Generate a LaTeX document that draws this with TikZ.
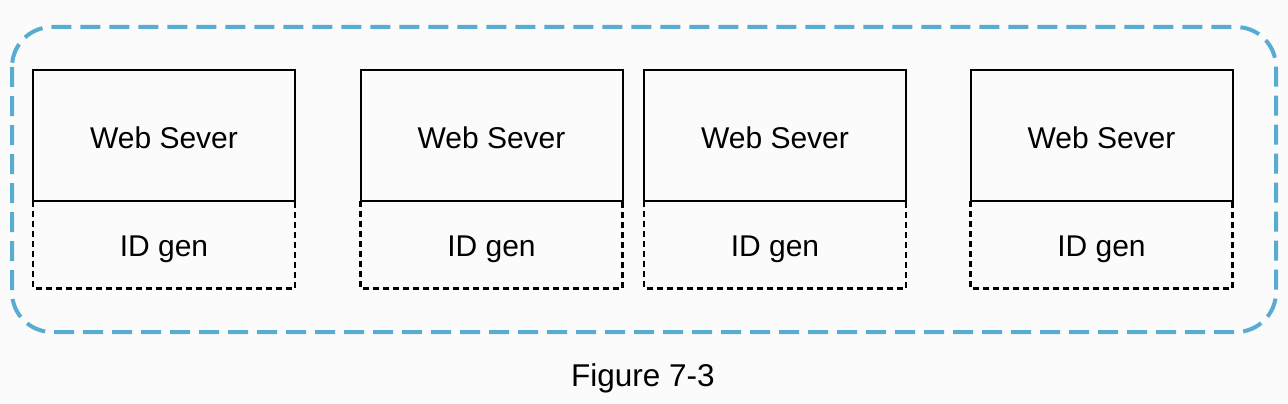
\documentclass[tikz,border=0pt]{standalone}
\usepackage{fontspec}
\setmainfont{Liberation Sans}
\definecolor{grpblue}{RGB}{88,172,210}
\definecolor{bgcol}{RGB}{251,251,251}
\begin{document}
\begin{tikzpicture}[x=1pt,y=-1pt,
  wsbox/.style={draw=black,line width=2pt,rectangle,minimum width=262pt,minimum height=131pt,inner sep=0pt,outer sep=0pt},
  idbox/.style={rectangle,minimum width=262pt,minimum height=87.5pt,inner sep=0pt,outer sep=0pt},
  idline/.style={draw=black,line width=2.3pt,dash pattern=on 6pt off 4pt},
  grp/.style={draw=grpblue,line width=4pt,dash pattern=on 20pt off 9pt,rounded corners=40pt},
  lbl/.style={font=\fontsize{30}{36}\selectfont,anchor=base,inner sep=0pt}]
\useasboundingbox[fill=bgcol] (0,0) rectangle (1288,404);
\draw[grp] (12,27) rectangle (1276,332);
\foreach \i/\x in {1/164,2/491.5,3/775,4/1101.5}{
  \node[idbox] (id\i) at (\x,244.75) {};
  \draw[idline] (id\i.north west) -- (id\i.south west) -- (id\i.south east) -- (id\i.north east);
  \node[wsbox] (ws\i) at (\x,135.5) {};
  \node[lbl] (wt\i) at (\x,148.3) {Web Sever};
  \node[lbl] (it\i) at (\x,256) {ID gen};
}
\node[lbl,font=\fontsize{31.5}{38}\selectfont] (cap) at (643,386.7) {Figure 7-3};
\end{tikzpicture}
\end{document}
